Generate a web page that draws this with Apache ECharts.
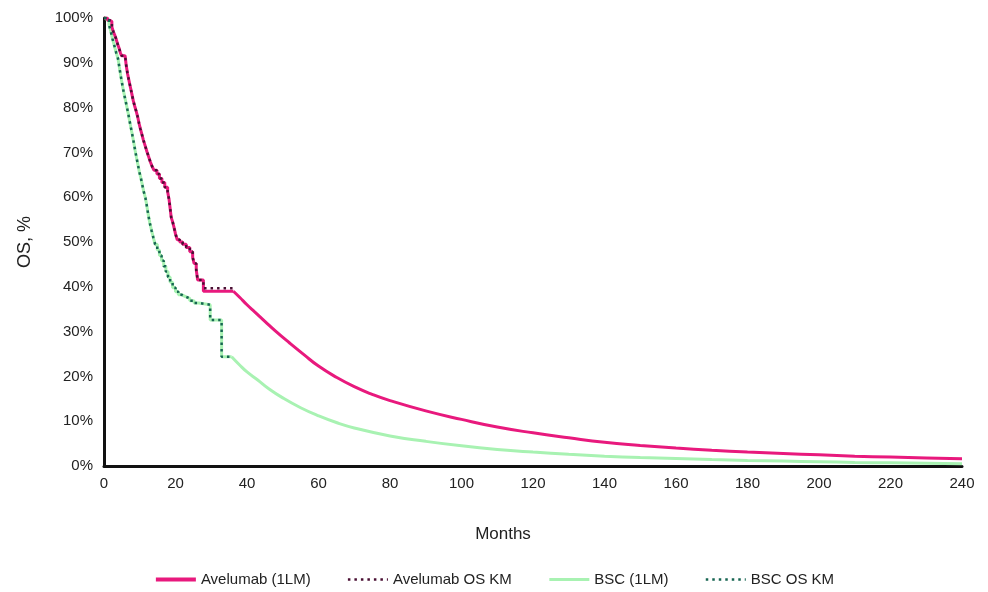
<!DOCTYPE html>
<html><head><meta charset="utf-8">
<script src="https://cdn.jsdelivr.net/npm/echarts@6/dist/echarts.min.js"></script>
<style>html,body{margin:0;padding:0;background:#fff}#c{width:988px;height:592px}</style>
</head><body><div id="c"></div>
<script>
// ---- data (months, OS %) ----
const seriesNames = ['Avelumab (1LM)', 'Avelumab OS KM', 'BSC (1LM)', 'BSC OS KM'];

const avelumabKM = [[0,100],[1.0,99.5],[1.6,99.2],[2.2,98],[2.6,97],[3.0,96.2],[3.4,95.3],[3.8,94.2],[4.2,93.3],[4.6,92.2],[4.9,91.6],[5.9,91.6],[6.2,89.5],[6.6,87.5],[7.0,86],[7.4,84.5],[7.8,83],[8.2,81.5],[8.6,80.3],[9.0,79.2],[9.4,78],[9.8,76.5],[10.2,75.2],[10.6,74],[11.0,72.8],[11.5,71.5],[12.0,70.2],[12.5,69],[13.0,67.8],[13.5,66.8],[14.0,66],[14.8,65.2],[15.5,64.2],[16.2,63.3],[17.0,62.2],[17.8,61.2],[18.2,59.5],[18.5,57.5],[18.8,55.5],[19.2,54.5],[19.6,53.2],[20.0,51.8],[20.5,50.5],[21.2,50.0],[22.0,49.5],[23.0,48.8],[24.0,47.8],[24.8,46.6],[25.2,45.2],[25.8,43.8],[26.2,41.5],[27.8,39.7],[36.6,39.7]];

const avelumabModelEarly = [[0,100],[1.0,99.5],[1.6,99.2],[2.2,98],[2.6,97],[3.0,96.2],[3.4,95.3],[3.8,94.2],[4.2,93.3],[4.6,92.2],[4.9,91.6],[5.9,91.6],[6.2,89.5],[6.6,87.5],[7.0,86],[7.4,84.5],[7.8,83],[8.2,81.5],[8.6,80.3],[9.0,79.2],[9.4,78],[9.8,76.5],[10.2,75.2],[10.6,74],[11.0,72.8],[11.5,71.5],[12.0,70.2],[12.5,69],[13.0,67.8],[13.5,66.8],[14.0,66],[14.8,65.2],[15.5,64.2],[16.2,63.3],[17.0,62.2],[17.8,61.2],[18.2,59.5],[18.5,57.5],[18.8,55.5],[19.2,54.5],[19.6,53.2],[20.0,51.8],[20.5,50.5],[21.2,50.0],[22.0,49.5],[23.0,48.8],[24.0,47.8],[24.8,46.6],[25.2,45.2],[25.8,43.8],[26.2,41.5],[27.8,39.0],[36.2,39.0]];

const avelumabModelTail = [[36.2,39.0],[38,37.6],[40,36.0],[42,34.5],[45,32.3],[48,30.1],[52,27.4],[56,24.8],[60,22.3],[65,19.8],[70,17.7],[75,16.0],[80,14.6],[90,12.3],[100,10.4],[110,8.7],[120,7.4],[130,6.3],[140,5.3],[150,4.6],[160,4.0],[170,3.5],[180,3.1],[190,2.8],[200,2.5],[210,2.2],[220,2.0],[230,1.8],[240,1.6]];

const bscKM = [[0,100],[0.8,99.5],[1.4,98.5],[1.9,97],[2.4,95.3],[2.9,93.8],[3.4,92.3],[3.9,91],[4.3,89],[4.7,87],[5.1,85.2],[5.5,83.5],[5.9,82],[6.3,80.5],[6.7,79],[7.1,77.3],[7.5,75.6],[7.9,74],[8.3,72.3],[8.7,70.5],[9.1,68.8],[9.5,67.2],[9.9,65.6],[10.3,64.3],[10.7,62.8],[11.1,61.3],[11.6,59.8],[12.0,58],[12.4,56],[12.8,54.3],[13.3,52.6],[13.8,51],[14.3,49.5],[14.9,48.2],[15.5,47],[16.1,45.8],[16.7,44.6],[17.3,43.4],[17.9,42.2],[18.5,41.0],[19.2,39.8],[20.0,38.9],[20.8,38.2],[21.8,37.8],[22.8,37.4],[24.0,36.9],[25.2,36.4],[26.5,36.0],[29.7,32.6],[32.9,24.4],[35.7,24.4]];

const bscModelTail = [[35.7,24.4],[38,22.5],[40,21.0],[43,19.2],[46,17.3],[50,15.2],[55,13.0],[60,11.2],[65,9.7],[70,8.5],[80,6.7],[90,5.5],[100,4.5],[110,3.7],[120,3.1],[130,2.6],[140,2.2],[150,1.9],[160,1.7],[170,1.45],[180,1.25],[190,1.1],[200,0.95],[210,0.8],[220,0.7],[230,0.6],[240,0.5]];

const xTicks = {min: 0, max: 240, interval: 20};
const yTicks = {min: 0, max: 100, interval: 10};

// ---- chart ----
const PINK = '#E8197D', GREEN = '#A8F2B2', AVE_DOT = '#4A0F33', BSC_DOT = '#176552';
const font = 'Liberation Sans, Arial, sans-serif';
const chart = echarts.init(document.getElementById('c'), null, {renderer: 'canvas'});
const dotted = [2.5, 4];
chart.setOption({
  animation: false,
  backgroundColor: '#fff',
  grid: {left: 104, right: 26, top: 18, bottom: 126, containLabel: false},
  legend: {
    data: [
      {name: seriesNames[0], lineStyle: {width: 4}},
      {name: seriesNames[1], lineStyle: {width: 2.5}},
      {name: seriesNames[2], lineStyle: {width: 3}},
      {name: seriesNames[3], lineStyle: {width: 2.5}}
    ],
    bottom: 0, left: 'center',
    itemWidth: 40, itemHeight: 12, itemGap: 36,
    itemStyle: {opacity: 0},
    textStyle: {fontFamily: font, fontSize: 15, color: '#222'}
  },
  xAxis: {
    type: 'value', min: xTicks.min, max: xTicks.max, interval: xTicks.interval,
    name: 'Months', nameLocation: 'middle', nameGap: 60,
    nameTextStyle: {fontFamily: font, fontSize: 17, color: '#222', padding: [0, 60, 0, 0]},
    axisLine: {show: true, lineStyle: {color: '#111', width: 3}},
    axisTick: {show: false},
    axisLabel: {fontFamily: font, fontSize: 15, color: '#222', margin: 10},
    splitLine: {show: false}
  },
  yAxis: {
    type: 'value', min: yTicks.min, max: yTicks.max, interval: yTicks.interval,
    name: 'OS, %', nameLocation: 'middle', nameGap: 70, nameRotate: 90,
    nameTextStyle: {fontFamily: font, fontSize: 18, color: '#222'},
    axisLine: {show: true, lineStyle: {color: '#111', width: 3}},
    axisTick: {show: false},
    axisLabel: {fontFamily: font, fontSize: 15, color: '#222', margin: 11, formatter: '{value}%'},
    splitLine: {show: false}
  },
  series: [
    {name: seriesNames[0], type: 'line', data: avelumabModelEarly, step: 'end', symbol: 'none',
     lineStyle: {color: PINK, width: 3}, itemStyle: {color: PINK}, z: 2},
    {name: seriesNames[0], type: 'line', data: avelumabModelTail, smooth: true, symbol: 'none',
     lineStyle: {color: PINK, width: 3}, itemStyle: {color: PINK}, z: 2},
    {name: seriesNames[2], type: 'line', data: bscKM, step: 'end', symbol: 'none',
     lineStyle: {color: GREEN, width: 3}, itemStyle: {color: GREEN}, z: 1},
    {name: seriesNames[2], type: 'line', data: bscModelTail, smooth: true, symbol: 'none',
     lineStyle: {color: GREEN, width: 3}, itemStyle: {color: GREEN}, z: 1},
    {name: seriesNames[1], type: 'line', data: avelumabKM, step: 'end', symbol: 'none',
     lineStyle: {color: AVE_DOT, width: 2.5, type: dotted}, itemStyle: {color: AVE_DOT}, z: 3},
    {name: seriesNames[3], type: 'line', data: bscKM, step: 'end', symbol: 'none',
     lineStyle: {color: BSC_DOT, width: 2.5, type: dotted}, itemStyle: {color: BSC_DOT}, z: 3}
  ]
});
</script></body></html>
